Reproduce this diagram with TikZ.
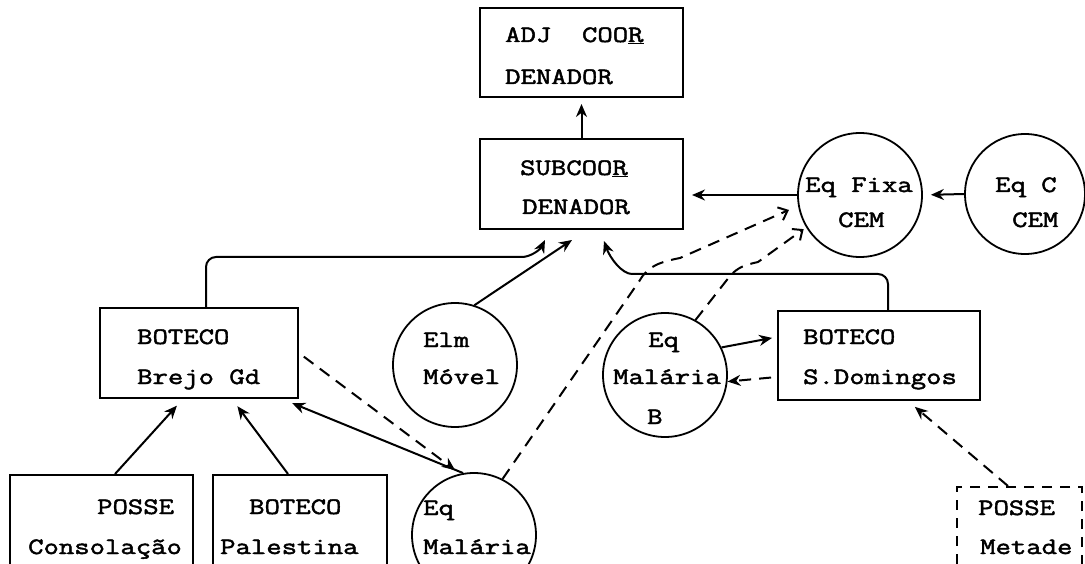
\documentclass[tikz,border=0pt]{standalone}
\usepackage{fontspec}
\newfontfamily\tw{Latin Modern Mono}[FakeStretch=1.27, BoldFont={Latin Modern Mono}, BoldFeatures={FakeBold=2,FakeStretch=1.27}]
\usetikzlibrary{arrows.meta,calc}
\tikzset{
  box/.style={draw, line width=2pt, rectangle, inner sep=0pt},
  dbox/.style={box, dash pattern=on 10pt off 8pt},
  circ/.style={draw, line width=1.8pt, circle, inner sep=0pt, minimum size=124pt},
  lbl/.style={font={\tw\bfseries\fontsize{23.5}{30}\selectfont}, inner sep=0pt, anchor=west, text height=14pt, text depth=0pt},
  conn/.style={line width=2pt},
  sarr/.style={conn, -{Stealth[length=13pt,width=11pt]}},
  darr/.style={conn, dash pattern=on 12pt off 8pt, -{Stealth[length=13pt,width=11pt]}},
  oarr/.style={conn, dash pattern=on 12pt off 8pt, -{Straight Barb[length=8pt,width=14pt]}}
}
\begin{document}
\begin{tikzpicture}[x=1pt,y=-1pt]
\useasboundingbox (0,0) rectangle (1085,564);
\fill[white] (0,0) rectangle (1085,564);
% boxes
\node[box, minimum width=203pt, minimum height=89pt] (adj) at (581.5,52.5) {};
\node[box, minimum width=203pt, minimum height=90pt] (sub) at (581.5,184) {};
\node[box, minimum width=198pt, minimum height=90pt] (brejo) at (199,353) {};
\node[box, minimum width=202pt, minimum height=89pt] (sdom) at (879,355.5) {};
\node[box, minimum width=183pt, minimum height=145pt] (consol) at (101.5,547.5) {};
\node[box, minimum width=174pt, minimum height=145pt] (palest) at (300,547.5) {};
\node[dbox, minimum width=125pt, minimum height=133pt] (posseM) at (1019.5,553.5) {};
% circles
\node[circ] (fixa) at (860,195) {};
\node[circ, minimum size=120pt] (eqc) at (1025,194) {};
\node[circ] (elm) at (455,365) {};
\node[circ] (malB) at (665,375) {};
\node[circ] (mal) at (474,535) {};
% labels
\node[lbl] (adj1) at (505,35) {ADJ\ \ COO\underline{R}};
\node[lbl] (adj2) at (505,77) {DENADOR};
\node[lbl] (sub1) at (520,168) {SUBCOO\underline{R}};
\node[lbl] (sub2) at (522,207) {DENADOR};
\node[lbl] (bre1) at (137,337) {BOTECO};
\node[lbl] (bre2) at (137,377) {Brejo Gd};
\node[lbl] (sdo1) at (803,337) {BOTECO};
\node[lbl] (sdo2) at (803,377) {S.Domingos};
\node[lbl] (con1) at (97,507) {POSSE};
\node[lbl] (con2) at (28,547) {Consolação};
\node[lbl] (pal1) at (249,507) {BOTECO};
\node[lbl] (pal2) at (220,547) {Palestina};
\node[lbl] (met1) at (978,508) {POSSE};
\node[lbl] (met2) at (980,547) {Metade};
\node[lbl] (fix1) at (805,185) {Eq Fixa};
\node[lbl] (fix2) at (838,220) {CEM};
\node[lbl] (eqc1) at (995,185) {Eq C};
\node[lbl] (eqc2) at (1012,220) {CEM};
\node[lbl] (elm1) at (423,340) {Elm};
\node[lbl] (elm2) at (423,377) {Móvel};
\node[lbl] (mb1) at (648,340) {Eq};
\node[lbl] (mb2) at (613,377) {Malária};
\node[lbl] (mb3) at (647,417) {B};
\node[lbl] (ml1) at (423,508) {Eq};
\node[lbl] (ml2) at (423,547) {Malária};
% free ends
\coordinate (sin1) at (545,240);
\coordinate (sin2) at (572,240);
\coordinate (sin3) at (604,241);
% connectors
\draw[sarr, shorten >=6pt] (sub.north) -- (adj.south);
\draw[sarr, shorten >=8pt] (fixa.west) -- (sub.east |- fixa.west);
\draw[sarr, shorten >=8pt] (eqc.west) -- (fixa.east);
\draw[sarr, rounded corners=10pt] (brejo.north -| 206,0) -- (206,257) -- (512,257) .. controls (530,257) and (540,250) .. (sin1);
\draw[sarr] (elm.72) -- (sin2);
\draw[sarr, rounded corners=10pt] (sdom.north -| 888,0) -- (888,274) -- (642,274) .. controls (622,274) and (610,258) .. (sin3);
\draw[sarr, shorten >=5pt] (malB.26) -- (sdom.west |- 0,337);
\draw[darr, shorten <=6pt] (sdom.west |- 0,377) -- (malB.-6);
\draw[darr, shorten >=9pt] (posseM.north -| 1008,0) -- (sdom.south -| 908,0);
\draw[sarr, shorten >=9pt] (consol.north -| 115,0) -- (brejo.south -| 183,0);
\draw[sarr, shorten >=9pt] (palest.north -| 288,0) -- (brejo.south -| 232,0);
\draw[sarr, shorten >=11pt] (mal.100) -- (brejo.south -| 282,0);
\draw[darr, shorten <=6pt, shorten >=6pt] (brejo.east) -- (mal.103);
\draw[oarr, shorten >=10pt] (mal.63) -- (640,280) .. controls (648,266) and (660,262) .. (680,258) -- (fixa.190);
\draw[oarr, shorten >=3pt] (malB.61) -- (730,276) .. controls (738,267) and (745,265) .. (758,262) -- (fixa.211);
\end{tikzpicture}
\end{document}
